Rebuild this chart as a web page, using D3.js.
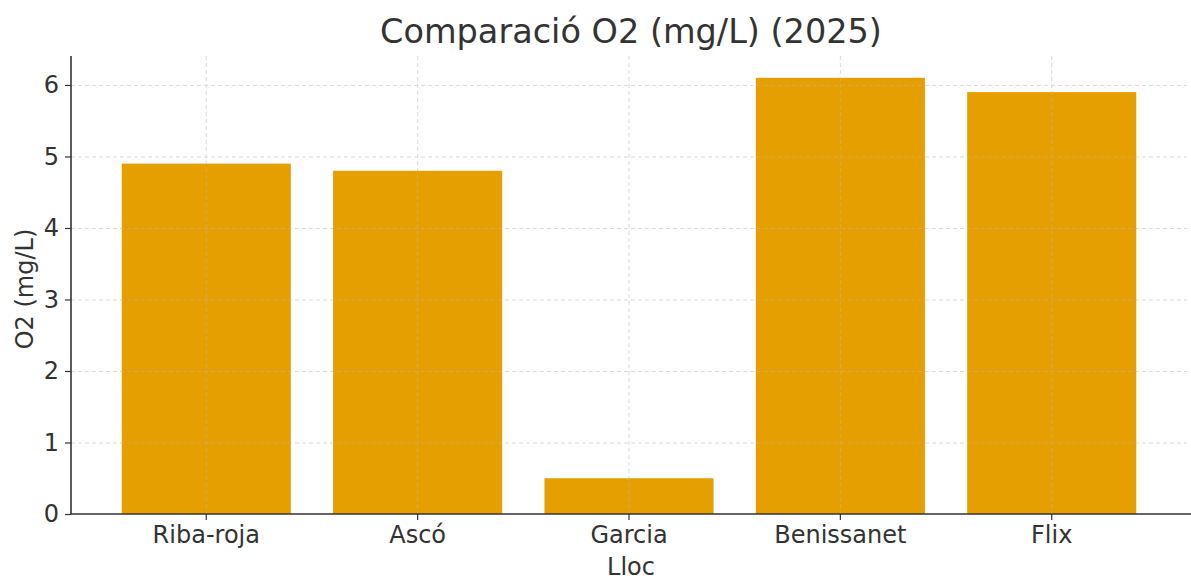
<!DOCTYPE html>
<html>
<head>
<meta charset="utf-8">
<script src="https://cdn.jsdelivr.net/npm/d3@7"></script>
<style>
  body { margin: 0; background: #fff; }
  text { font-family: "DejaVu Sans", sans-serif; fill: #333; }
</style>
</head>
<body>
<script>
var width = 1191;
var height = 581;

// data
var llocs = ["Riba-roja", "Ascó", "Garcia", "Benissanet", "Flix"];
var o2 = [4.9, 4.8, 0.5, 6.1, 5.9];
var yTicks = [0, 1, 2, 3, 4, 5, 6];

var margin = {left: 71, right: 4, top: 56, bottom: 67};

var svg = d3.select("body").append("svg")
  .attr("width", width)
  .attr("height", height);

var x = d3.scaleBand()
  .domain(llocs)
  .range([margin.left, width - margin.right])
  .paddingInner(0.2)
  .paddingOuter(0.24);

// matplotlib style 5% headroom
var y = d3.scaleLinear()
  .domain([0, d3.max(o2) * 1.05])
  .range([height - margin.bottom, margin.top]);

var rows = llocs.map(function (d, i) { return {lloc: d, val: o2[i]}; });

//bars
svg.append("g").selectAll("rect")
  .data(rows)
  .enter()
  .append("rect")
  .attr("x", function (d) { return x(d.lloc); })
  .attr("width", x.bandwidth())
  .attr("y", function (d) { return y(d.val); })
  .attr("height", function (d) { return y(0) - y(d.val); })
  .style("fill", "#e69f00");

//grid, drawn on top but faint
var grid = svg.append("g")
  .style("stroke", "#b8b8b8")
  .style("stroke-dasharray", "4,3")
  .style("stroke-width", 1)
  .style("opacity", 0.5);
grid.selectAll(".gy")
  .data(yTicks.slice(1))
  .enter().append("line")
  .attr("x1", margin.left).attr("x2", width - margin.right)
  .attr("y1", function (d) { return y(d) + 0.5; })
  .attr("y2", function (d) { return y(d) + 0.5; });
grid.selectAll(".gx")
  .data(llocs)
  .enter().append("line")
  .attr("x1", function (d) { return x(d) + x.bandwidth() / 2; })
  .attr("x2", function (d) { return x(d) + x.bandwidth() / 2; })
  .attr("y1", margin.top).attr("y2", y(0));

//axes
var xAxis = svg.append("g")
  .attr("transform", "translate(0," + y(0) + ")")
  .call(d3.axisBottom(x).tickSize(6).tickPadding(6));
var yAxis = svg.append("g")
  .attr("transform", "translate(" + margin.left + ",0)")
  .call(d3.axisLeft(y).tickValues(yTicks).tickFormat(d3.format("d")).tickSize(6).tickPadding(6));

[xAxis, yAxis].forEach(function (a) {
  a.select(".domain").style("stroke", "#333").style("stroke-width", 1.6);
  a.selectAll(".tick line").style("stroke", "#333").style("stroke-width", 1.2);
  a.selectAll("text").style("font-size", "24px").style("fill", "#333")
    .style("font-family", "DejaVu Sans, sans-serif");
});
xAxis.select(".domain").attr("d", "M" + margin.left + ",0H" + (width));
yAxis.select(".domain").attr("d", "M0," + y(0) + "V" + margin.top);

var cx = (margin.left + width) / 2;

svg.append("text")
  .attr("x", cx)
  .attr("y", 43)
  .attr("text-anchor", "middle")
  .style("font-size", "33.5px")
  .text("Comparació O2 (mg/L) (2025)");

svg.append("text")
  .attr("x", cx)
  .attr("y", 575)
  .attr("text-anchor", "middle")
  .style("font-size", "24px")
  .text("Lloc");

svg.append("text")
  .attr("transform", "translate(33,289) rotate(-90)")
  .attr("text-anchor", "middle")
  .style("font-size", "24px")
  .text("O2 (mg/L)");
</script>
</body>
</html>
